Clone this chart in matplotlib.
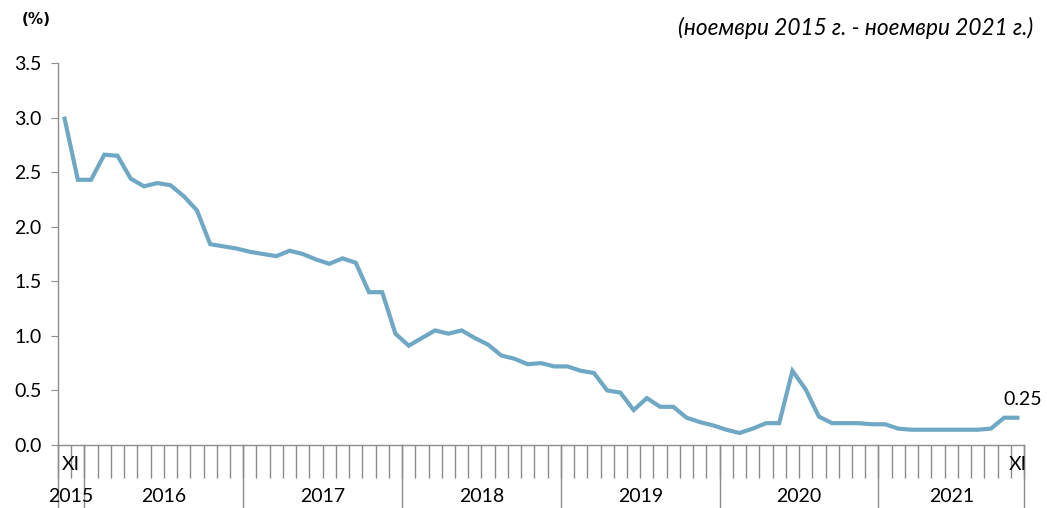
import matplotlib
matplotlib.use("Agg")
import matplotlib.pyplot as plt
import numpy as np

# Monthly values, Nov 2015 .. Nov 2021
values = [2.99, 2.43, 2.43, 2.66, 2.65, 2.44, 2.37, 2.40, 2.38, 2.28, 2.15, 1.84,
          1.82, 1.80, 1.77, 1.75, 1.73, 1.78, 1.75, 1.70, 1.66, 1.71, 1.67, 1.40,
          1.40, 1.02, 0.91, 0.98, 1.05, 1.02, 1.05, 0.98, 0.92, 0.82, 0.79, 0.74,
          0.75, 0.72, 0.72, 0.68, 0.66, 0.50, 0.48, 0.32, 0.43, 0.35, 0.35, 0.25,
          0.21, 0.18, 0.14, 0.11, 0.15, 0.20, 0.20, 0.68, 0.51, 0.26, 0.20, 0.20,
          0.20, 0.19, 0.19, 0.15, 0.14, 0.14, 0.14, 0.14, 0.14, 0.14, 0.15, 0.25,
          0.25]
years = ["2015", "2016", "2017", "2018", "2019", "2020", "2021"]
months_in_year = [2, 12, 12, 12, 12, 12, 11]
yticks = [0.0, 0.5, 1.0, 1.5, 2.0, 2.5, 3.0, 3.5]
start_label = "XI"
end_label = "XI"
last_label = "0.25"
unit_label = "(%)"
period_label = "(ноември 2015 г. - ноември 2021 г.)"

FONT = ["Lato", "Noto Sans", "DejaVu Sans"]
plt.rcParams["font.family"] = FONT
FS = 14

W, H = 1047, 508
fig = plt.figure(figsize=(W / 100, H / 100), dpi=100)
L, R, T, B = 58, 1024, 63, 445
ax = fig.add_axes([L / W, 1 - B / H, (R - L) / W, (B - T) / H])

x = np.arange(len(values))
ax.plot(x, values, color="#6fa8c4", lw=3.0, solid_joinstyle="miter")
ax.set_xlim(-0.5, len(values) - 0.5)
ax.set_ylim(0, 3.5)

axis_col = "#8c8c8c"
for s in ["top", "right"]:
    ax.spines[s].set_visible(False)
for s in ["left", "bottom"]:
    ax.spines[s].set_color(axis_col)
    ax.spines[s].set_linewidth(1.0)

ax.set_yticks(yticks)
ax.set_yticklabels([f"{v:.1f}" for v in yticks], fontsize=FS)
ax.tick_params(axis="y", direction="out", length=5, color=axis_col, pad=7)

# month ticks below axis
ax.set_xticks(np.arange(len(values) + 1) - 0.5)
ax.set_xticklabels([])
ax.tick_params(axis="x", direction="out", length=24, color=axis_col, width=1.0)

# year separators and labels
trans = ax.get_xaxis_transform()
bounds = np.concatenate([[0], np.cumsum(months_in_year)]) - 0.5
sep_bottom = -(H - B) / (B - T) - 0.01
for b in bounds:
    ax.plot([b, b], [0, sep_bottom], transform=trans, color=axis_col, lw=1.0,
            clip_on=False)
year_y = -(496 - B) / (B - T)
for i, yl in enumerate(years):
    ax.text((bounds[i] + bounds[i + 1]) / 2, year_y, yl, transform=trans,
            ha="center", va="center", fontsize=FS)

xi_y = -(465 - B) / (B - T)
ax.text(-0.25, xi_y, start_label, transform=trans, ha="left", va="center", fontsize=FS)
ax.text(len(values) - 1, xi_y, end_label, transform=trans, ha="center", va="center",
        fontsize=FS)

ax.annotate(last_label, (len(values) - 1, values[-1]), xytext=(18, 13),
            textcoords="offset points", ha="right", va="center", fontsize=FS,
            annotation_clip=False)

fig.text(22 / W, 1 - 20 / H, unit_label, ha="left", va="center", fontsize=11,
         fontweight="bold", family="DejaVu Sans")
fig.text(1033 / W, 1 - 28 / H, period_label, ha="right", va="center", fontsize=16.3,
         style="italic")

fig.savefig("out.png", dpi=100)
